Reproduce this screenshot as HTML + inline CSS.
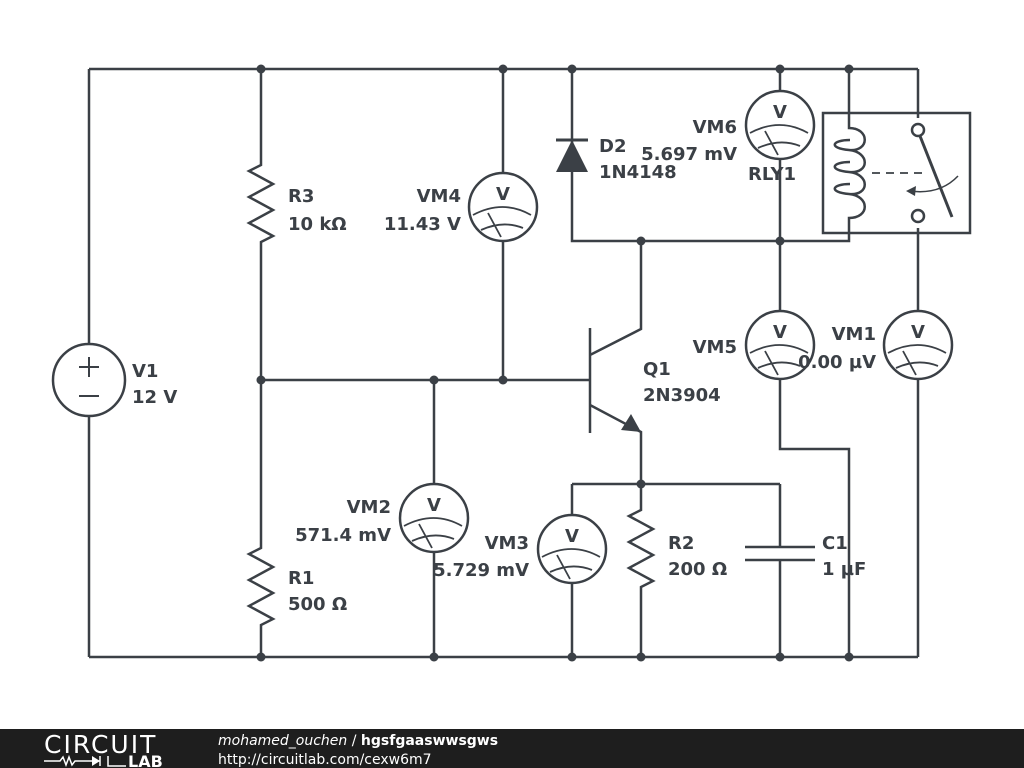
<!DOCTYPE html>
<html><head><style>
body{margin:0;background:#fff;width:1024px;height:768px;overflow:hidden}
svg{display:block}
text{font-family:"DejaVu Sans","Liberation Sans",sans-serif;font-weight:bold;font-size:18px;fill:#3b4046}
</style></head><body>
<svg width="1024" height="768" viewBox="0 0 1024 768">
<defs>
<g id="vm" fill="none" stroke="#3b4046" stroke-width="2.5">
<circle r="34" fill="#fff"/>
<path d="M-30,8 Q0,-8 28,8 M-22,23 Q0,13 20,21 M-15,6 L-2,30" stroke-width="1.8"/>
</g>
</defs>
<g fill="none" stroke="#3b4046" stroke-width="2.5">
<path d="M89,69 H918 M89,657 H918 M89,69 V657"/>
<path d="M261,69 V165 l-12,6 24,13 -24,13 24,13 -24,13 24,13 -12,6 V548 l-12,6 24,13 -24,13 24,13 -24,13 24,13 -12,6 V657"/>
<path d="M261,380 H590 M503,69 V380 M434,380 V657"/>
<path d="M572,69 V241 H849 V233 M849,113 V69"/>
<path d="M590,328 V433 M590,355 L641,329 V241 M590,405 L641,432 V484"/>
<path d="M572,484 H780 M572,484 V657 M641,484 V510 l-12,6 24,13 -24,13 24,13 -24,13 24,13 -12,6 V657"/>
<path d="M780,484 V547 M780,560 V657 M745,547 H815 M745,560 H815"/>
<path d="M780,69 V449 H849 V657 M918,69 V118 M918,228 V657"/>
<rect x="823" y="113" width="147" height="120"/>
<path d="M849,113 V128 C870,128 870,152 849,150 C828,148 832,140 850,140 M849,150 C870,152 870,174 849,172 C828,170 832,162 850,162 M849,172 C870,174 870,196 849,194 C828,192 832,184 850,184 M849,194 C870,196 870,218 849,218 V233"/>
<path d="M872,173 H925" stroke-dasharray="8,6" stroke-width="1.8"/>
<circle cx="918" cy="130" r="6"/><circle cx="918" cy="216" r="6"/>
<path d="M920,136 L952,217" stroke-width="3"/>
<path d="M958,176 Q940,195 910,191" stroke-width="1.5"/>
<circle cx="89" cy="380" r="36" fill="#fff"/>
<path d="M79,367 H99 M89,357 V377 M79,396 H99" stroke-width="2"/>
</g>
<path d="M572,140 L556,172 H588 Z" fill="#3b4046"/>
<path d="M556,140 H588" stroke="#3b4046" stroke-width="3"/>
<path d="M641,432 L621,430 L631,414 Z" fill="#3b4046"/>
<path d="M906,191 L916,186 L915,196 Z" fill="#3b4046"/>
<g fill="#3b4046">
<circle cx="261" cy="69" r="4.5"/><circle cx="503" cy="69" r="4.5"/><circle cx="572" cy="69" r="4.5"/><circle cx="780" cy="69" r="4.5"/><circle cx="849" cy="69" r="4.5"/>
<circle cx="261" cy="657" r="4.5"/><circle cx="434" cy="657" r="4.5"/><circle cx="572" cy="657" r="4.5"/><circle cx="641" cy="657" r="4.5"/><circle cx="780" cy="657" r="4.5"/><circle cx="849" cy="657" r="4.5"/>
<circle cx="261" cy="380" r="4.5"/><circle cx="434" cy="380" r="4.5"/><circle cx="503" cy="380" r="4.5"/>
<circle cx="641" cy="241" r="4.5"/><circle cx="780" cy="241" r="4.5"/><circle cx="641" cy="484" r="4.5"/>
</g>
<text x="288" y="202">R3</text><text x="288" y="230">10 kΩ</text>
<text x="288" y="584">R1</text><text x="288" y="610">500 Ω</text>
<text x="132" y="377">V1</text><text x="132" y="403">12 V</text>
<text x="599" y="152">D2</text><text x="599" y="178">1N4148</text>
<text x="643" y="375">Q1</text><text x="643" y="401">2N3904</text>
<text x="668" y="549">R2</text><text x="668" y="575">200 Ω</text>
<text x="822" y="549">C1</text><text x="822" y="575">1 µF</text>
<text x="748" y="180">RLY1</text>
<use href="#vm" x="503" y="207"/><text x="503" y="200" font-size="25" text-anchor="middle">V</text>
<text x="461" y="202" text-anchor="end">VM4</text><text x="461" y="230" text-anchor="end">11.43 V</text>
<use href="#vm" x="780" y="125"/><text x="780" y="118" font-size="25" text-anchor="middle">V</text>
<text x="737" y="133" text-anchor="end">VM6</text><text x="737" y="160" text-anchor="end">5.697 mV</text>
<use href="#vm" x="780" y="345"/><text x="780" y="338" font-size="25" text-anchor="middle">V</text>
<text x="737" y="353" text-anchor="end">VM5</text>
<text x="876" y="340" text-anchor="end">VM1</text><text x="876" y="368" text-anchor="end">0.00 µV</text>
<use href="#vm" x="918" y="345"/><text x="918" y="338" font-size="25" text-anchor="middle">V</text>
<use href="#vm" x="434" y="518"/><text x="434" y="511" font-size="25" text-anchor="middle">V</text>
<text x="391" y="513" text-anchor="end">VM2</text><text x="391" y="541" text-anchor="end">571.4 mV</text>
<use href="#vm" x="572" y="549"/><text x="572" y="542" font-size="25" text-anchor="middle">V</text>
<text x="529" y="549" text-anchor="end">VM3</text><text x="529" y="576" text-anchor="end">5.729 mV</text>
<rect x="0" y="729" width="1024" height="39" fill="#1e1e1e"/>
<text x="44" y="753" style="font-weight:normal;font-size:25px;fill:#fff;letter-spacing:2px">CIRCUIT</text>
<path d="M44,761 H60 l3,-4 3,8 3,-8 3,8 3,-4 H100 M100,756 V766 M108,756 V766 H126" stroke="#fff" stroke-width="1.5" fill="none"/>
<path d="M92,756 L100,761 L92,766Z" fill="#fff"/>
<text x="128" y="767" style="font-size:16px;fill:#fff">LAB</text>
<text x="218" y="745" style="font-weight:normal;font-style:italic;font-size:14px;fill:#fff">mohamed_ouchen <tspan font-style="normal">/</tspan> <tspan font-weight="bold" font-style="normal">hgsfgaaswwsgws</tspan></text>
<text x="218" y="764" style="font-weight:normal;font-size:14px;fill:#fff">http://circuitlab.com/cexw6m7</text>
</svg>
</body></html>
